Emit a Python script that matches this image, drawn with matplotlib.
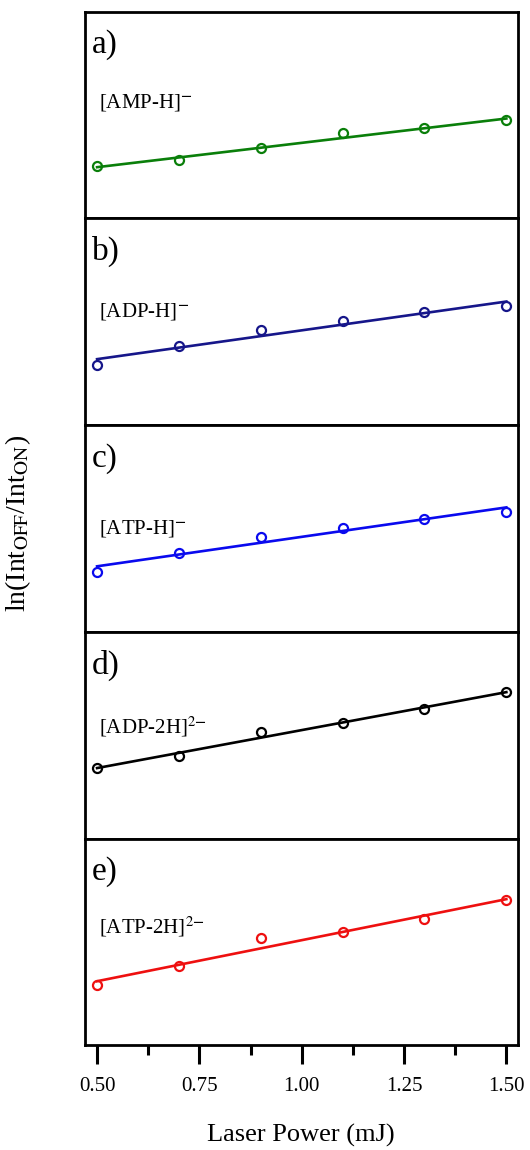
import matplotlib
matplotlib.use("Agg")
import matplotlib.pyplot as plt
import numpy as np
from matplotlib.ticker import MultipleLocator, FormatStrFormatter

plt.rcParams.update({
    "font.family": ["Liberation Serif", "DejaVu Serif"],
    "mathtext.fontset": "stix",
    "axes.linewidth": 2.0,
})

# ---------------- data ----------------
power = [0.50, 0.70, 0.90, 1.10, 1.30, 1.50]          # laser power (mJ)
# ln(Int_OFF/Int_ON), arbitrary offsets per panel (no y scale shown)
amp_h   = [52, 58, 70, 85, 90, 98]
adp_h   = [60, 79, 94.7, 103.7, 112.7, 118.7]
atp_h   = [59.7, 78.7, 95, 104, 113.3, 119.7]
adp_2h  = [70.3, 83, 106.3, 115.3, 130, 146.7]
atp_2h  = [60, 79, 107.7, 113, 126.7, 145.3]

panels  = ["a)", "b)", "c)", "d)", "e)"]
species = [r"[AMP-H]$^{\mathbf{-}}$", r"[ADP-H]$^{\mathbf{-}}$", r"[ATP-H]$^{\mathbf{-}}$",
           r"[ADP-2H]$^{2\mathbf{-}}$", r"[ATP-2H]$^{2\mathbf{-}}$"]
series  = [amp_h, adp_h, atp_h, adp_2h, atp_2h]
colors  = ["#0a7f0a", "#16168a", "#0a0aee", "#000000", "#ee1010"]
lab_y   = [0.56, 0.55, 0.50, 0.54, 0.575]

fig, axes = plt.subplots(5, 1, figsize=(5.3, 11.5), dpi=100, sharex=True)
fig.subplots_adjust(left=0.16, right=0.977, top=0.99, bottom=0.091, hspace=0)

x = np.array(power)
for ax, tag, name, y, c, ly in zip(axes, panels, species, series, colors, lab_y):
    y = np.array(y)
    k, b = np.polyfit(x, y, 1)
    ax.plot(x, k * x + b, color=c, lw=1.9, zorder=2)
    ax.plot(x, y, "o", mfc="none", mec=c, mew=1.6, ms=6.5, zorder=3)
    ax.set_ylim(0, 207)
    ax.set_yticks([])
    ax.text(0.017, 0.84, tag, transform=ax.transAxes, fontsize=24, va="center")
    ax.text(0.032, ly, name, transform=ax.transAxes, fontsize=15, va="center")
    ax.tick_params(axis="x", which="both", bottom=False, top=False, labelbottom=False)

ax = axes[-1]
ax.set_xlim(0.47, 1.528)
ax.xaxis.set_major_locator(MultipleLocator(0.25))
ax.xaxis.set_minor_locator(MultipleLocator(0.125))
ax.xaxis.set_major_formatter(FormatStrFormatter("%.2f"))
ax.tick_params(axis="x", which="major", bottom=True, labelbottom=True,
               direction="out", length=14, width=2.2, labelsize=15, pad=9)
ax.tick_params(axis="x", which="minor", bottom=True, direction="out",
               length=7, width=2.2)
ax.set_xlabel("Laser Power (mJ)", fontsize=19, labelpad=20)

fig.text(0.034, 0.545, r"ln(Int$_{\mathrm{OFF}}$/Int$_{\mathrm{ON}}$)", rotation=90,
         fontsize=20, ha="center", va="center")

fig.savefig("out.png")
